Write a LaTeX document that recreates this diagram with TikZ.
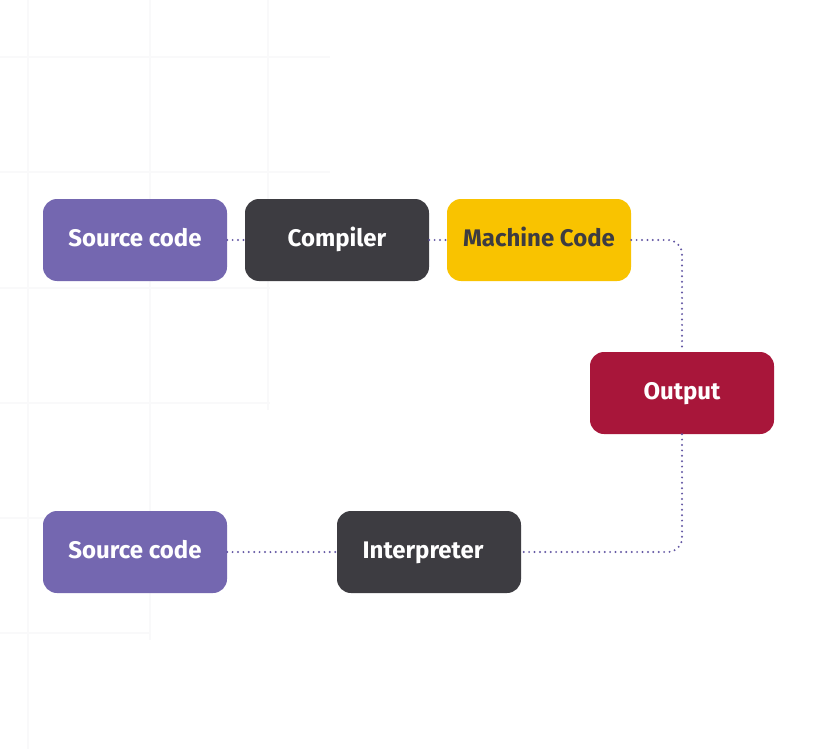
\documentclass[tikz,border=0pt]{standalone}
\usepackage{fontspec}
\setmainfont{Fira Sans}
\begin{document}
\begin{tikzpicture}[x=1pt,y=-1pt,
  box/.style={rounded corners=14pt, minimum width=184pt, minimum height=82pt, inner sep=0pt,
    text height=18pt, text depth=6pt,
    font=\fontsize{24}{28}\selectfont\bfseries, text=white},
  link/.style={draw=linkc, line width=2.2pt, line cap=round, dash pattern=on 0pt off 5.4pt, rounded corners=14pt},
  gridl/.style={draw=gridc, line width=1.5pt}]
\definecolor{purp}{HTML}{7467B0}
\definecolor{darkb}{HTML}{3D3C41}
\definecolor{yell}{HTML}{F9C300}
\definecolor{crim}{HTML}{A8163A}
\definecolor{linkc}{HTML}{6458A4}
\definecolor{gridc}{HTML}{F9F9FA}
\fill[white] (0,0) rectangle (819,749);
\useasboundingbox (0,0) rectangle (819,749);
% faint background grid
\draw[gridl] (28,0) -- (28,749);
\draw[gridl] (150,0) -- (150,640);
\draw[gridl] (268,0) -- (268,410);
\draw[gridl] (0,57) -- (330,57);
\draw[gridl] (0,172) -- (330,172);
\draw[gridl] (0,288) -- (270,288);
\draw[gridl] (0,403) -- (270,403);
\draw[gridl] (0,518) -- (150,518);
\draw[gridl] (0,633) -- (150,633);
% boxes
\node[box, fill=purp] (src1) at (135,240) {Source code};
\node[box, fill=darkb] (comp) at (337,240) {Compiler};
\node[box, fill=yell, text=darkb] (mach) at (539,240) {Machine Code};
\node[box, fill=crim] (out) at (682,393) {Output};
\node[box, fill=purp] (src2) at (135,552) {Source code};
\node[box, fill=darkb] (interp) at (429,552) {\hspace*{-12pt}Interpreter};
% connectors
\draw[link] (src1.east) -- (comp.west);
\draw[link] (comp.east) -- (mach.west);
\draw[link] (mach.east) -| (out.north);
\draw[link] (out.south) |- (interp.east);
\draw[link] (src2.east) -- (interp.west);
\end{tikzpicture}
\end{document}
